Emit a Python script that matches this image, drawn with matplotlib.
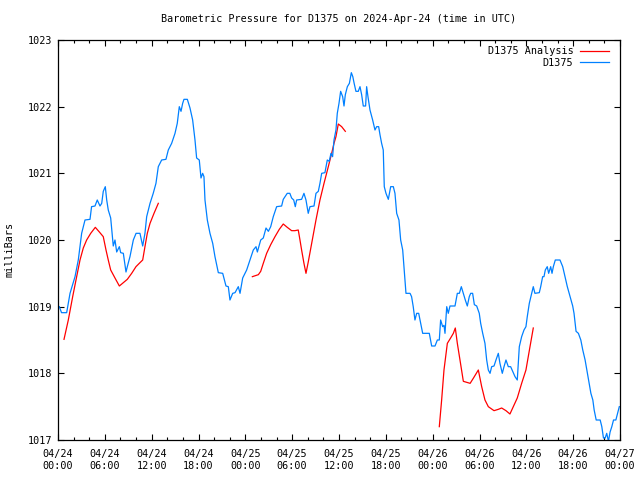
import matplotlib
matplotlib.use('Agg')
import matplotlib.pyplot as plt
import numpy as np

# ── data (hours since 2024-04-24 00:00 UTC, pressure in mbar) ────────────────
obs_hours = [
    0.17, 0.45, 1.11, 1.54, 2.18, 2.6, 3.03, 3.46, 4.1, 4.3, 4.74, 5.03, 5.38, 5.6, 5.8,
    6.06, 6.24, 6.44, 6.75, 7.0, 7.08, 7.3, 7.52, 7.86, 8.03, 8.37, 8.71, 8.88, 9.22,
    9.65, 10.0, 10.5, 10.85, 11.14, 11.36, 11.79, 12.2, 12.55, 12.85, 13.28, 13.83,
    14.13, 14.56, 14.99, 15.28, 15.54, 15.76, 15.97, 16.14, 16.57, 16.91, 17.25, 17.55,
    17.76, 18.1, 18.32, 18.53, 18.7, 18.83, 19.13, 19.47, 19.82, 20.11, 20.54, 21.1,
    21.52, 21.82, 22.03, 22.38, 22.68, 23.1, 23.32, 23.66, 24.17, 24.6, 25.02, 25.37,
    25.54, 25.97, 26.3, 26.65, 26.95, 27.25, 27.58, 28.01, 28.65, 28.86, 29.37, 29.7,
    29.93, 30.2, 30.4, 30.57, 31.21, 31.51, 31.77, 32.06, 32.28, 32.8, 33.05, 33.35,
    33.56, 33.78, 34.2, 34.5, 34.75, 34.97, 35.18, 35.36, 35.61, 35.78, 36.0, 36.21,
    36.47, 36.64, 36.81, 37.07, 37.33, 37.58, 37.77, 37.94, 38.17, 38.47, 38.69, 38.9,
    39.11, 39.41, 39.54, 39.71, 39.97, 40.31, 40.61, 40.82, 41.08, 41.25, 41.46, 41.67,
    41.8, 42.02, 42.32, 42.62, 42.96, 43.17, 43.39, 43.68, 43.9, 44.16, 44.32, 44.58,
    45.1, 45.3, 45.51, 45.73, 45.95, 46.21, 46.46, 46.72, 47.57, 47.87, 48.3, 48.6,
    48.85, 49.02, 49.28, 49.45, 49.58, 49.8, 50.0, 50.22, 50.86, 51.16, 51.42, 51.67,
    51.93, 52.18, 52.44, 52.69, 52.87, 53.12, 53.34, 53.64, 53.97, 54.15, 54.41, 54.7,
    54.92, 55.13, 55.35, 55.56, 55.86, 56.11, 56.41, 56.62, 56.92, 57.14, 57.39, 57.69,
    57.99, 58.25, 58.55, 58.84, 59.1, 59.4, 59.7, 59.95, 60.12, 60.38, 60.68, 60.89,
    61.1, 61.66, 61.84, 62.09, 62.26, 62.43, 62.68, 62.86, 63.12, 63.29, 63.46, 63.71,
    64.31, 64.66, 64.95, 65.25, 65.6, 65.94, 66.11, 66.37, 66.67, 66.98, 67.23, 67.53,
    67.75, 67.96, 68.27, 68.52, 68.69, 68.95, 69.46, 69.67, 69.88, 70.1, 70.3, 70.52,
    70.73, 70.95, 71.17, 71.47, 71.91,
]
obs_mbar = [
    1019.0, 1018.91, 1018.91, 1019.2, 1019.45, 1019.7, 1020.1, 1020.3, 1020.31, 1020.5,
    1020.51, 1020.6, 1020.51, 1020.55, 1020.73, 1020.8, 1020.6, 1020.45, 1020.33, 1020.0,
    1019.91, 1020.0, 1019.82, 1019.9, 1019.81, 1019.8, 1019.52, 1019.6, 1019.75, 1020.0,
    1020.1, 1020.1, 1019.91, 1020.1, 1020.35, 1020.55, 1020.7, 1020.85, 1021.1, 1021.2,
    1021.21, 1021.35, 1021.45, 1021.6, 1021.75, 1022.0, 1021.93, 1022.05, 1022.11,
    1022.11, 1021.98, 1021.8, 1021.5, 1021.23, 1021.2, 1020.93, 1021.0, 1020.95, 1020.6,
    1020.3, 1020.1, 1019.95, 1019.75, 1019.51, 1019.5, 1019.31, 1019.3, 1019.1, 1019.2,
    1019.21, 1019.3, 1019.2, 1019.43, 1019.55, 1019.7, 1019.85, 1019.9, 1019.82, 1020.0,
    1020.03, 1020.18, 1020.13, 1020.2, 1020.35, 1020.5, 1020.51, 1020.61, 1020.7, 1020.7,
    1020.63, 1020.6, 1020.5, 1020.6, 1020.61, 1020.7, 1020.6, 1020.4, 1020.5, 1020.51,
    1020.7, 1020.73, 1020.85, 1021.0, 1021.01, 1021.2, 1021.18, 1021.3, 1021.25, 1021.5,
    1021.65, 1021.9, 1022.05, 1022.23, 1022.15, 1022.01, 1022.18, 1022.3, 1022.35,
    1022.51, 1022.45, 1022.35, 1022.23, 1022.23, 1022.3, 1022.18, 1022.01, 1022.01,
    1022.3, 1022.15, 1021.95, 1021.8, 1021.65, 1021.7, 1021.7, 1021.58, 1021.45, 1021.35,
    1020.8, 1020.7, 1020.61, 1020.8, 1020.8, 1020.7, 1020.4, 1020.3, 1020.0, 1019.85,
    1019.6, 1019.2, 1019.2, 1019.15, 1019.0, 1018.8, 1018.9, 1018.9, 1018.75, 1018.6,
    1018.6, 1018.41, 1018.41, 1018.5, 1018.5, 1018.8, 1018.7, 1018.72, 1018.6, 1019.0,
    1018.9, 1019.01, 1019.01, 1019.2, 1019.2, 1019.3, 1019.2, 1019.1, 1019.01, 1019.15,
    1019.2, 1019.2, 1019.03, 1019.01, 1018.9, 1018.75, 1018.6, 1018.45, 1018.2, 1018.05,
    1018.0, 1018.1, 1018.11, 1018.2, 1018.3, 1018.15, 1018.0, 1018.1, 1018.2, 1018.1,
    1018.1, 1018.03, 1017.95, 1017.9, 1018.4, 1018.55, 1018.65, 1018.7, 1018.85, 1019.05,
    1019.2, 1019.3, 1019.2, 1019.21, 1019.3, 1019.45, 1019.45, 1019.55, 1019.6, 1019.5,
    1019.6, 1019.5, 1019.6, 1019.7, 1019.7, 1019.6, 1019.45, 1019.3, 1019.15, 1019.01,
    1018.9, 1018.63, 1018.6, 1018.5, 1018.35, 1018.2, 1018.05, 1017.9, 1017.7, 1017.6,
    1017.45, 1017.3, 1017.3, 1017.2, 1017.03, 1017.03, 1017.1, 1016.98, 1017.12, 1017.2,
    1017.3, 1017.3, 1017.5,
]

# analysis runs (three separate segments)
ana1_hours = [0.77, 1.32, 1.88, 2.39, 2.82, 3.24, 3.67, 4.19, 4.78, 5.3, 5.8, 6.15, 6.44,
              6.75, 7.3, 7.86, 8.37, 8.88, 9.44, 9.99, 10.5, 10.85, 11.14, 11.44, 11.79,
              12.3, 12.85]
ana1_mbar = [1018.51, 1018.8, 1019.15, 1019.45, 1019.7, 1019.88, 1020.0, 1020.1, 1020.19,
             1020.12, 1020.05, 1019.85, 1019.7, 1019.55, 1019.43, 1019.31, 1019.36,
             1019.41, 1019.5, 1019.6, 1019.66, 1019.7, 1019.9, 1020.1, 1020.25, 1020.4,
             1020.55]
ana2_hours = [24.9, 25.67, 25.97, 26.3, 26.73, 27.25, 27.8, 28.35, 28.86, 29.37, 29.93,
              30.35, 30.78, 31.0, 31.21, 31.51, 31.77, 32.06, 32.5, 33.05, 33.56, 34.08,
              34.63, 35.06, 35.36, 35.61, 35.91, 36.34, 36.81]
ana2_mbar = [1019.45, 1019.48, 1019.53, 1019.65, 1019.8, 1019.93, 1020.05, 1020.16,
             1020.24, 1020.19, 1020.14, 1020.14, 1020.15, 1020.0, 1019.85, 1019.65,
             1019.5, 1019.67, 1019.95, 1020.3, 1020.6, 1020.85, 1021.1, 1021.3, 1021.45,
             1021.55, 1021.74, 1021.7, 1021.63]
ana3_hours = [48.85, 49.15, 49.45, 49.88, 50.3, 50.65, 50.9, 51.16, 51.5, 51.93, 52.8,
              53.23, 53.85, 54.28, 54.7, 55.13, 55.86, 56.41, 56.84, 57.39, 57.9, 58.33,
              58.84, 59.4, 59.95, 60.47, 60.89]
ana3_mbar = [1017.2, 1017.6, 1018.05, 1018.45, 1018.53, 1018.6, 1018.68, 1018.45, 1018.2,
             1017.88, 1017.85, 1017.93, 1018.05, 1017.8, 1017.6, 1017.5, 1017.44, 1017.46,
             1017.48, 1017.44, 1017.39, 1017.5, 1017.63, 1017.85, 1018.05, 1018.4,
             1018.68]

tick_hours = [0, 6, 12, 18, 24, 30, 36, 42, 48, 54, 60, 66, 72]
tick_labels = ['04/24\n00:00', '04/24\n06:00', '04/24\n12:00', '04/24\n18:00',
               '04/25\n00:00', '04/25\n06:00', '04/25\n12:00', '04/25\n18:00',
               '04/26\n00:00', '04/26\n06:00', '04/26\n12:00', '04/26\n18:00',
               '04/27\n00:00']
y_ticks = [1017, 1018, 1019, 1020, 1021, 1022, 1023]

RED = '#ff0000'
BLUE = '#0080ff'
FS = 7.3
plt.rcParams['font.family'] = ['DejaVu Sans Mono']

fig = plt.figure(figsize=(6.4, 4.8), dpi=100)
ax = fig.add_axes([58 / 640, 40 / 480, 562 / 640, 400 / 480])

ax.plot(ana1_hours, ana1_mbar, color=RED, lw=0.9, label='D1375 Analysis')
ax.plot(ana2_hours, ana2_mbar, color=RED, lw=0.9)
ax.plot(ana3_hours, ana3_mbar, color=RED, lw=0.9)
ax.plot(obs_hours, obs_mbar, color=BLUE, lw=0.9, label='D1375')

ax.set_xlim(0, 72)
ax.set_ylim(1017, 1023)
ax.set_xticks(tick_hours)
ax.set_xticklabels(tick_labels, fontsize=FS, linespacing=1.3)
ax.set_xticks(np.arange(0, 73, 2), minor=True)
ax.set_yticks(y_ticks)
ax.set_yticklabels([str(v) for v in y_ticks], fontsize=FS)
ax.tick_params(which='both', direction='in', top=True, right=True, width=0.8)
ax.tick_params(which='major', length=4.5)
ax.tick_params(which='minor', length=2.5)
ax.tick_params(axis='x', which='major', pad=6.3)
ax.tick_params(axis='y', which='major', pad=4)
for sp in ax.spines.values():
    sp.set_linewidth(0.9)

ax.legend(loc='upper right', frameon=False, markerfirst=False, fontsize=FS,
          handlelength=2.9, handletextpad=0.6, labelspacing=0.15,
          borderaxespad=0, bbox_to_anchor=(1 - 7 / 562, 1 - 2 / 400))

fig.text(339 / 640, 1 - 19 / 480, 'Barometric Pressure for D1375 on 2024-Apr-24 (time in UTC)',
         ha='center', va='center', fontsize=FS)
fig.text(10 / 640, 1 - 249 / 480, 'milliBars', rotation=90, ha='center', va='center',
         fontsize=FS)

plt.savefig('out.png', dpi=100)
